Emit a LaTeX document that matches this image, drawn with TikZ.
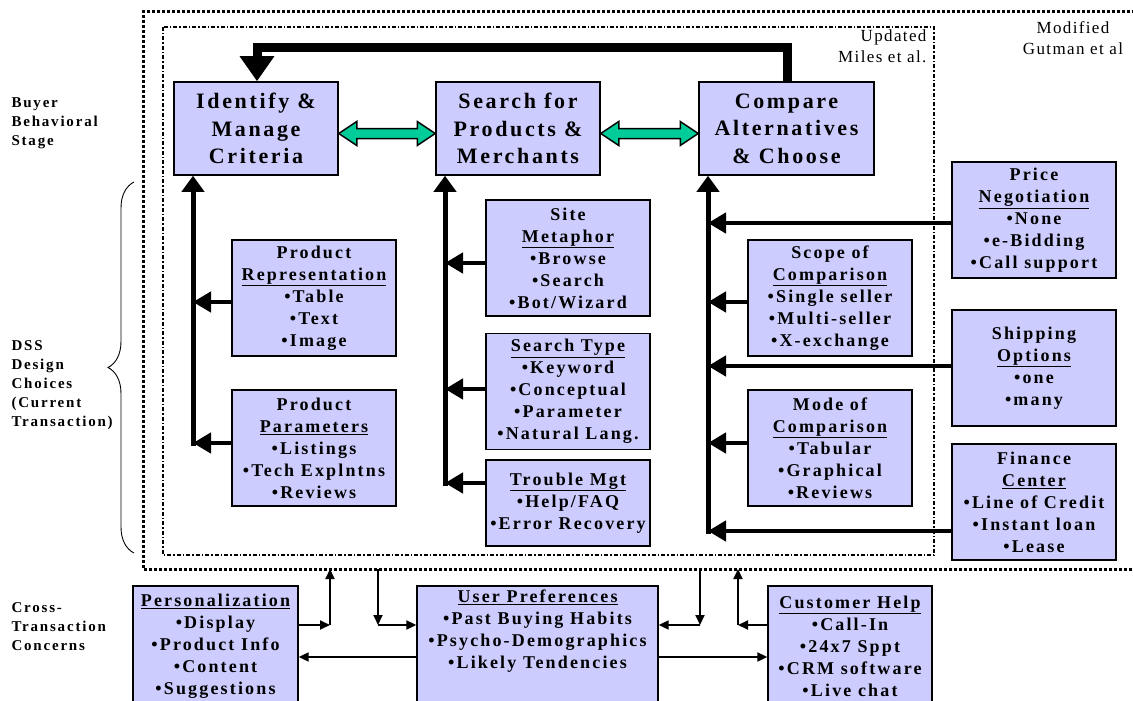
\documentclass[tikz,border=0pt]{standalone}
\usepackage{fontspec}
\setmainfont{Liberation Serif}
\newfontfamily\spaced[LetterSpace=12]{Liberation Serif}
\newfontfamily\airy[LetterSpace=8]{Liberation Serif}
\usetikzlibrary{arrows.meta,calc,decorations.pathreplacing}
\definecolor{boxblue}{HTML}{CCCCFF}
\definecolor{flowgreen}{HTML}{00CC99}

\tikzset{
  stage/.style={draw, line width=1.5pt, fill=boxblue, align=center, inner sep=0pt,
    font=\spaced\bfseries\fontsize{22}{27.5}\selectfont, minimum width=164pt, minimum height=93pt,
    execute at begin node={\rule{0pt}{20pt}}},
  choice/.style={draw, line width=1.3pt, fill=boxblue, align=center, inner sep=0pt,
    font=\spaced\bfseries\fontsize{18}{22}\selectfont, minimum width=164pt, minimum height=116pt,
    execute at begin node={\rule{0pt}{18pt}}},
  rowlabel/.style={anchor=west, align=left, font=\spaced\bfseries\fontsize{15}{19}\selectfont},
  note/.style={align=right, font=\airy\fontsize{17}{21}\selectfont},
  outerframe/.style={line width=3pt, dash pattern=on 3pt off 2pt},
  innerframe/.style={line width=1.6pt, dash pattern=on 4pt off 2pt on 1.5pt off 2pt},
  trunk/.style={line width=5pt, -{Triangle[width=22pt,length=16pt]}},
  branch/.style={line width=4.5pt, -{Triangle[width=20pt,length=18pt]}},
  feedback/.style={line width=9pt, line join=miter, -{Triangle[width=33pt,length=25pt]}},
  flow/.style={draw, line width=1.5pt, fill=flowgreen, line join=miter},
  link/.style={line width=1.8pt, -{Triangle[width=9pt,length=10pt]}}
}

% green two-way block arrow between two stages
\newcommand{\flowarrow}[2]{%
  \path ($(#1.east)+(0,5)$) coordinate (fa) ($(#2.west)+(0,5)$) coordinate (fb);
  \draw[flow] (fa) -- ++(18,-12) -- ++(0,7) -- ($(fb)+(-18,-5)$) -- ++(0,-7) -- (fb)
    -- ++(-18,12) -- ++(0,-7) -- ($(fa)+(18,5)$) -- ++(0,7) -- cycle;}

\begin{document}
\begin{tikzpicture}[x=1pt,y=-1pt]
  \useasboundingbox (0,0) rectangle (1133,701);

  % frames
  \draw[outerframe] (1140,12) -- (143,12) -- (143,569) -- (1140,569);
  \draw[innerframe] (163,27) rectangle (934,555);
  \node[note, anchor=north east] (updated) at (930,26) {Updated\\Miles et al.};
  \node[note, align=center] (modified) at (1073,38) {Modified\\Gutman et al};

  % row labels on the left
  \node[rowlabel] (buyer) at (8,123) {Buyer\\Behavioral\\Stage};
  \node[rowlabel] (dss) at (8,385) {DSS\\Design\\Choices\\(Current\\Transaction)};
  \node[rowlabel] (cross) at (8,627) {Cross-\\Transaction\\Concerns};
  \draw[line width=0.9pt, decorate, decoration={brace, amplitude=26pt}]
    (134,553) -- (134,182);

  % behavioural stages
  \node[stage] (crit) at (256,128.5) {Identify \&\\Manage\\Criteria};
  \node[stage] (search) at (518,128.5) {Search for\\Products \&\\Merchants};
  \node[stage, minimum width=175pt] (choose) at (786.5,128.5) {Compare\\Alternatives\\\& Choose};
  \flowarrow{crit}{search}
  \flowarrow{search}{choose}

  % loop back from choosing to the criteria
  \coordinate (fbr) at (787,48);
  \coordinate (fbl) at (257,48);
  \draw[feedback] (choose.north -| fbr) -- (fbr) -- (fbl) -- (crit.north -| fbl);

  % design choices, criteria column
  \node[choice] (prodrep) at (314,298) {Product\\\underline{Representation}\\•Table\\•Text\\•Image};
  \node[choice] (prodpar) at (314,448) {Product\\\underline{Parameters}\\•Listings\\•Tech Explntns\\•Reviews};
  \coordinate (lt) at (193,446);
  \coordinate (lb1) at (193,302);
  \coordinate (lb2) at (193,443);
  \draw[trunk] (lt) -- (crit.south -| lt);
  \draw[branch] (prodrep.west |- lb1) -- (lb1);
  \draw[branch] (prodpar.west |- lb2) -- (lb2);

  % design choices, search column
  \node[choice] (site) at (568,258) {Site\\\underline{Metaphor}\\•Browse\\•Search\\•Bot/Wizard};
  \node[choice] (stype) at (568,391.5) {\underline{Search Type}\\•Keyword\\•Conceptual\\•Parameter\\•Natural Lang.};
  \node[choice, minimum height=86pt] (trouble) at (568,503) {\underline{Trouble Mgt}\\•Help/FAQ\\•Error Recovery};
  \coordinate (mt) at (445,486);
  \coordinate (mb1) at (445,263);
  \coordinate (mb2) at (445,389);
  \coordinate (mb3) at (445,483);
  \draw[trunk] (mt) -- (search.south -| mt);
  \draw[branch] (site.west |- mb1) -- (mb1);
  \draw[branch] (stype.west |- mb2) -- (mb2);
  \draw[branch] (trouble.west |- mb3) -- (mb3);

  % design choices, compare column
  \node[choice] (scope) at (830,298) {Scope of\\\underline{Comparison}\\•Single seller\\•Multi-seller\\•X-exchange};
  \node[choice] (mode) at (830,448) {Mode of\\\underline{Comparison}\\•Tabular\\•Graphical\\•Reviews};
  \node[choice] (price) at (1034,220) {Price\\\underline{Negotiation}\\•None\\•e-Bidding\\•Call support};
  \node[choice] (ship) at (1034,368) {Shipping\\\underline{Options}\\•one\\•many};
  \node[choice] (finance) at (1034,502) {Finance\\\underline{Center}\\•Line of Credit\\•Instant loan\\•Lease};
  \coordinate (rt) at (708,534);
  \coordinate (rb1) at (708,223);
  \coordinate (rb2) at (708,302);
  \coordinate (rb3) at (708,366);
  \coordinate (rb4) at (708,443);
  \coordinate (rb5) at (708,531);
  \draw[trunk] (rt) -- (choose.south -| rt);
  \draw[branch] (price.west |- rb1) -- (rb1);
  \draw[branch] (scope.west |- rb2) -- (rb2);
  \draw[branch] (ship.west |- rb3) -- (rb3);
  \draw[branch] (mode.west |- rb4) -- (rb4);
  \draw[branch] (finance.west |- rb5) -- (rb5);

  % cross-transaction concerns
  \node[choice, minimum width=165pt, minimum height=120pt] (pers) at (215.5,646)
    {\underline{Personalization}\\•Display\\•Product Info\\•Content\\•Suggestions};
  \node[choice, minimum width=241pt, minimum height=130pt] (prefs) at (537.5,651)
    {\underline{User Preferences}\\•Past Buying Habits\\•Psycho-Demographics\\•Likely Tendencies\\\mbox{}\\\mbox{}};
  \node[choice, minimum height=120pt] (help) at (850,646)
    {\underline{Customer Help}\\•Call-In\\•24x7 Sppt\\•CRM software\\•Live chat};

  % links to the frame and between concerns
  \coordinate (pu) at (330,569);
  \coordinate (pe) at (330,625);
  \coordinate (pd) at (378,569);
  \coordinate (pf) at (378,625);
  \coordinate (ud) at (700,569);
  \coordinate (ue) at (700,625);
  \coordinate (hu) at (738,569);
  \coordinate (he) at (738,625);
  \coordinate (low) at (0,657);
  \draw[link] (pers.east |- pe) -- (pe);
  \draw[link] (pe) -- (pu);
  \draw[link] (pd) -- (pf);
  \draw[link] (pf) -- (prefs.west |- pf);
  \draw[link] (ud) -- (ue);
  \draw[link] (ue) -- (prefs.east |- ue);
  \draw[link] (help.west |- he) -- (he);
  \draw[link] (he) -- (hu);
  \draw[link] (prefs.west |- low) -- (pers.east |- low);
  \draw[link] (prefs.east |- low) -- (help.west |- low);
\end{tikzpicture}
\end{document}
